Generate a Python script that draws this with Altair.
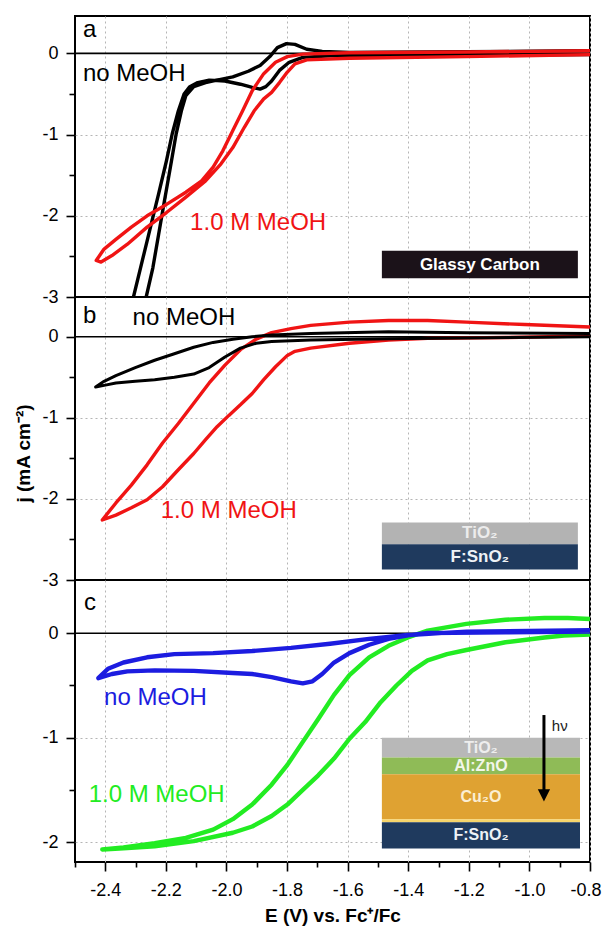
import altair as alt
import pandas as pd

FONT = "Liberation Sans"

# ---------------- data (E in V vs Fc+/Fc, j in mA cm^-2) ----------------
# Panel a: glassy carbon
a_nomeoh_E = [-0.80, -1.208, -1.465, -1.658, -1.748, -1.793, -1.825, -1.851, -1.870, -1.889, -1.915, -1.954,
              -2.005, -2.057, -2.095, -2.121, -2.140, -2.159, -2.179, -2.198, -2.224, -2.243, -2.275, -2.307,
              -2.330, -2.280, -2.265, -2.243, -2.224, -2.205, -2.185, -2.166, -2.149, -2.134, -2.108, -2.069,
              -2.031, -1.979, -1.928, -1.889, -1.857, -1.832, -1.802, -1.774, -1.735, -1.684, -1.594, -1.208, -0.80]
a_nomeoh_j = [-0.016, -0.025, -0.03, -0.03, -0.05, -0.11, -0.21, -0.34, -0.41, -0.44, -0.42, -0.38,
              -0.34, -0.33, -0.36, -0.41, -0.50, -0.71, -0.99, -1.32, -1.73, -2.02, -2.51, -3.0,
              -3.4, -3.4, -3.0, -2.64, -2.23, -1.82, -1.40, -0.99, -0.71, -0.52, -0.41, -0.36,
              -0.33, -0.29, -0.22, -0.15, -0.04, 0.07, 0.12, 0.11, 0.05, 0.025, 0.012, 0.02, 0.033]
a_meoh_E = [-0.80, -1.208, -1.594, -1.735, -1.774, -1.799, -1.825, -1.851, -1.877, -1.909, -1.941, -1.979,
            -2.018, -2.069, -2.134, -2.198, -2.262, -2.327, -2.378, -2.414, -2.430, -2.404, -2.365, -2.314,
            -2.262, -2.198, -2.134, -2.082, -2.044, -2.012, -1.979, -1.947, -1.915, -1.877, -1.838, -1.799,
            -1.748, -1.594, -1.208, -0.80]
a_meoh_j = [-0.016, -0.04, -0.06, -0.08, -0.13, -0.23, -0.36, -0.48, -0.56, -0.71, -0.91, -1.16,
            -1.36, -1.57, -1.77, -1.96, -2.14, -2.35, -2.49, -2.57, -2.55, -2.41, -2.29, -2.14,
            -2.00, -1.86, -1.71, -1.57, -1.40, -1.20, -0.95, -0.71, -0.46, -0.25, -0.11, -0.04,
            -0.01, 0.008, 0.016, 0.033]

# Panel b: TiO2 / F:SnO2
b_nomeoh_E = [-0.80, -1.465, -1.722, -1.851, -1.902, -1.954, -2.005, -2.057, -2.108, -2.172, -2.237, -2.301,
              -2.365, -2.404, -2.432, -2.404, -2.365, -2.301, -2.237, -2.172, -2.108, -2.044, -1.979, -1.915,
              -1.851, -1.722, -1.465, -1.208, -0.80]
b_nomeoh_j = [0.0, -0.025, -0.04, -0.06, -0.08, -0.14, -0.25, -0.38, -0.46, -0.50, -0.53, -0.55,
              -0.57, -0.60, -0.62, -0.55, -0.48, -0.38, -0.29, -0.21, -0.13, -0.07, -0.03, 0.0,
              0.02, 0.04, 0.06, 0.05, 0.04]
b_meoh_E = [-0.80, -1.079, -1.336, -1.465, -1.594, -1.722, -1.774, -1.799, -1.838, -1.877, -1.915, -1.954,
            -1.992, -2.031, -2.069, -2.108, -2.159, -2.211, -2.262, -2.314, -2.365, -2.410, -2.365, -2.314,
            -2.262, -2.211, -2.159, -2.108, -2.057, -2.005, -1.954, -1.902, -1.851, -1.787, -1.722, -1.594,
            -1.465, -1.336, -1.208, -1.015, -0.80]
b_meoh_j = [0.01, -0.01, -0.02, -0.04, -0.08, -0.14, -0.18, -0.23, -0.37, -0.53, -0.70, -0.84,
            -0.97, -1.11, -1.27, -1.44, -1.64, -1.85, -2.01, -2.11, -2.20, -2.26, -2.05, -1.83,
            -1.58, -1.31, -1.07, -0.82, -0.57, -0.35, -0.16, -0.03, 0.05, 0.10, 0.14, 0.18,
            0.20, 0.20, 0.18, 0.15, 0.12]

# Panel c: TiO2 / Al:ZnO / Cu2O / F:SnO2 photocathode
c_nomeoh_E = [-0.80, -1.079, -1.336, -1.401, -1.465, -1.529, -1.594, -1.645, -1.684, -1.716, -1.748, -1.787,
              -1.851, -1.915, -1.979, -2.108, -2.237, -2.327, -2.378, -2.423, -2.391, -2.340, -2.262, -2.172,
              -2.044, -1.915, -1.787, -1.658, -1.529, -1.401, -1.208, -0.80]
c_nomeoh_j = [0.016, 0.01, 0.003, -0.02, -0.054, -0.11, -0.19, -0.28, -0.39, -0.46, -0.48, -0.46,
              -0.42, -0.39, -0.38, -0.36, -0.355, -0.365, -0.39, -0.43, -0.34, -0.28, -0.23, -0.20,
              -0.19, -0.17, -0.14, -0.10, -0.054, -0.016, 0.016, 0.03]
c_meoh_E = [-0.80, -0.886, -0.950, -1.079, -1.208, -1.272, -1.336, -1.388, -1.439, -1.491, -1.542, -1.594,
            -1.645, -1.697, -1.748, -1.799, -1.851, -1.915, -1.979, -2.108, -2.237, -2.340, -2.410, -2.340,
            -2.237, -2.134, -2.044, -1.979, -1.915, -1.851, -1.799, -1.748, -1.697, -1.645, -1.594, -1.529,
            -1.465, -1.401, -1.336, -1.208, -1.079, -0.950, -0.873, -0.80]
c_meoh_j = [-0.013, -0.022, -0.04, -0.086, -0.16, -0.20, -0.26, -0.36, -0.50, -0.66, -0.85, -1.01,
            -1.20, -1.36, -1.50, -1.64, -1.75, -1.85, -1.91, -1.99, -2.04, -2.06, -2.07, -2.05,
            -2.01, -1.96, -1.88, -1.78, -1.64, -1.45, -1.26, -1.04, -0.82, -0.59, -0.40, -0.23,
            -0.12, -0.04, 0.025, 0.09, 0.13, 0.146, 0.146, 0.137]

# annotations
series_labels = ["no MeOH", "1.0 M MeOH"]
panel_letters = ["a", "b", "c"]

# electrode-stack insets: (label, E_left, E_right, j_top, j_bottom, fill, text colour)
a_stack = [("Glassy Carbon", -1.487, -0.840, -2.43, -2.77, "#1b1219", "#ffffff")]
b_stack = [("TiO\u2082", -1.487, -0.840, -2.29, -2.56, "#b3b3b3", "#ececec"),
           ("F:SnO\u2082", -1.487, -0.840, -2.56, -2.87, "#1f3a5e", "#eef2f6")]
c_stack = [("TiO\u2082", -1.487, -0.833, -1.00, -1.19, "#b8b8b8", "#eeeeee"),
           ("Al:ZnO", -1.487, -0.833, -1.19, -1.35, "#8fbb57", "#f2f6ea"),
           ("Cu\u2082O", -1.487, -0.833, -1.35, -1.78, "#dfa232", "#fbeed2"),
           ("", -1.487, -0.833, -1.78, -1.81, "#f6d56c", "#ffffff"),
           ("F:SnO\u2082", -1.487, -0.833, -1.81, -2.06, "#1f3a5e", "#eef2f6")]

X_DOMAIN = [-2.5, -0.8]
x_major = [-2.4, -2.2, -2.0, -1.8, -1.6, -1.4, -1.2, -1.0, -0.8]
x_ticks = [-2.5, -2.4, -2.3, -2.2, -2.1, -2.0, -1.9, -1.8, -1.7, -1.6, -1.5, -1.4, -1.3, -1.2, -1.1,
           -1.0, -0.9, -0.8]

W = 515

GRID_COLOR = "#b5b5b5"
X_MAJOR_TEST = "abs(round(datum.value*10)) % 2 == 0"


def x_parts(show_axis):
    if show_axis:
        axis = alt.Axis(
            values=x_ticks,
            labelExpr=X_MAJOR_TEST + " ? '-' + format(abs(datum.value), '.1f') : ''",
            tickSize={"condition": {"test": X_MAJOR_TEST, "value": 9}, "value": 5},
            grid=True,
            gridOpacity={"condition": {"test": X_MAJOR_TEST, "value": 1}, "value": 0},
            gridColor=GRID_COLOR, gridDash=[2, 3], gridWidth=1,
            domain=False, labelFlush=True, labelFlushOffset=11, labelOverlap=False,
            labelPadding=10, titlePadding=7,
            title="E (V) vs. Fc\u207a/Fc",
        )
    else:
        axis = alt.Axis(values=x_major, labels=False, ticks=False, domain=False, title=None,
                        grid=True, gridColor=GRID_COLOR, gridDash=[2, 3], gridWidth=1)
    return alt.Scale(domain=X_DOMAIN, nice=False, zero=False), axis


Y_INT_TEST = "datum.value % 1 == 0"


def y_parts(domain, values, title):
    kw = dict(
        values=values,
        labelExpr=Y_INT_TEST + " ? (datum.value == 0 ? '0' : '-' + abs(datum.value)) : ''",
        tickSize={"condition": {"test": Y_INT_TEST, "value": 9}, "value": 6},
        grid=True,
        gridOpacity={"condition": {"test": Y_INT_TEST + " && datum.value != 0", "value": 1}, "value": 0},
        gridColor=GRID_COLOR, gridDash=[2, 3], gridWidth=1,
        domain=False, labelPadding=8, labelOverlap=False,
        minExtent=31, maxExtent=31,
    )
    if title:
        kw.update(title=title, titlePadding=11, titleY=156)
    else:
        kw.update(title=None)
    return alt.Scale(domain=domain, nice=False, zero=False), alt.Axis(**kw)


def panel(curves, texts, stack, domain, yvalues, height, ytitle, show_x, extras=None, stack_font=17):
    xs, xa = x_parts(show_x)
    ys, ya = y_parts(domain, yvalues, ytitle)

    def X(field):
        return alt.X(field, type="quantitative", scale=xs, axis=xa)

    def Y(field):
        return alt.Y(field, type="quantitative", scale=ys, axis=ya)

    layers = []
    # inset boxes
    sdf = pd.DataFrame(stack, columns=["label", "E", "E2", "j", "j2", "fill", "tcol"])
    layers.append(alt.Chart(sdf).mark_rect().encode(
        x=X("E"), x2="E2:Q", y=Y("j"), y2="j2:Q", color=alt.Color("fill:N", scale=None)))
    sdf_t = sdf[sdf["label"] != ""].copy()
    sdf_t["Ec"] = (sdf_t["E"] + sdf_t["E2"]) / 2
    sdf_t["jc"] = (sdf_t["j"] + sdf_t["j2"]) / 2
    layers.append(alt.Chart(sdf_t).mark_text(font=FONT, fontSize=stack_font, fontWeight="bold",
                                             baseline="middle", align="center").encode(
        x=X("Ec"), y=Y("jc"), text="label:N", color=alt.Color("tcol:N", scale=None)))
    # zero line
    layers.append(alt.Chart(pd.DataFrame({"j": [0.0]})).mark_rule(color="black", strokeWidth=1.6)
                  .encode(y=Y("j")))
    if extras:
        layers.extend(extras(X, Y))
    for E, j, colour, width in curves:
        df = pd.DataFrame({"E": E, "j": j, "i": list(range(len(E)))})
        layers.append(alt.Chart(df).mark_line(color=colour, strokeWidth=width, clip=True,
                                              strokeJoin="round").encode(x=X("E"), y=Y("j"), order="i:Q"))
    for label, E, j, colour in texts:
        tdf = pd.DataFrame({"E": [E], "j": [j], "label": [label]})
        layers.append(alt.Chart(tdf).mark_text(font=FONT, fontSize=24, align="left",
                                               baseline="alphabetic", color=colour)
                      .encode(x=X("E"), y=Y("j"), text="label:N"))
    return alt.layer(*layers).properties(width=W, height=height)


def c_extras(X, Y):
    arrow = pd.DataFrame({"E": [-0.952], "j": [-0.783], "j2": [-1.52]})
    head = pd.DataFrame({"E": [-0.952], "j": [-1.553]})
    hv = pd.DataFrame({"E": [-0.926], "j": [-0.933], "label": ["h\u03bd"]})
    return [
        alt.Chart(arrow).mark_rule(color="black", strokeWidth=3).encode(x=X("E"), y=Y("j"), y2="j2:Q"),
        alt.Chart(head).mark_point(shape="M-1,-1L1,-1L0,1Z", size=150, filled=True, color="black",
                                   opacity=1).encode(x=X("E"), y=Y("j")),
        alt.Chart(hv).mark_text(font=FONT, fontSize=15, align="left", baseline="alphabetic",
                                color="#222222").encode(x=X("E"), y=Y("j"), text="label:N"),
    ]


RED = "#f01414"
GREEN = "#22ec22"
BLUE = "#1c1ce0"

pa = panel(
    curves=[(a_nomeoh_E, a_nomeoh_j, "black", 3.4), (a_meoh_E, a_meoh_j, RED, 3.4)],
    texts=[(panel_letters[0], -2.474, 0.197, "black"), (series_labels[0], -2.474, -0.336, "black"),
           (series_labels[1], -2.120, -2.17, RED)],
    stack=a_stack, domain=[-3, 0.46], yvalues=[0, -0.5, -1, -1.5, -2, -2.5, -3], height=281,
    ytitle=None, show_x=False)

pb = panel(
    curves=[(b_meoh_E, b_meoh_j, RED, 3.4), (b_nomeoh_E, b_nomeoh_j, "black", 3.0)],
    texts=[(panel_letters[1], -2.474, 0.173, "black"), (series_labels[0], -2.310, 0.144, "black"),
           (series_labels[1], -2.217, -2.24, RED)],
    stack=b_stack, domain=[-3, 0.49], yvalues=[0, -0.5, -1, -1.5, -2, -2.5, -3], height=283,
    ytitle="j (mA cm\u207b\u00b2)", show_x=False)

pc = panel(
    curves=[(c_meoh_E, c_meoh_j, GREEN, 4.4), (c_nomeoh_E, c_nomeoh_j, BLUE, 4.4)],
    texts=[(panel_letters[2], -2.470, 0.226, "black"), (series_labels[0], -2.404, -0.689, BLUE),
           (series_labels[1], -2.455, -1.619, GREEN)],
    stack=c_stack, domain=[-2.19, 0.51], yvalues=[0, -0.5, -1, -1.5, -2], height=282,
    ytitle=None, show_x=True, extras=c_extras, stack_font=16)

chart = alt.vconcat(pa, pb, pc, spacing=0, bounds="flush").properties(
    padding={"left": 5, "top": 7, "right": 0, "bottom": 0}
).configure_view(stroke="black", strokeWidth=2).configure_axis(
    labelFont=FONT, labelFontSize=18, labelColor="black",
    titleFont=FONT, titleFontSize=19, titleFontWeight="bold", titleColor="black",
    tickColor="black", tickWidth=1.6,
)

chart.save("out.html", embed_options={"renderer": "svg", "actions": False})
